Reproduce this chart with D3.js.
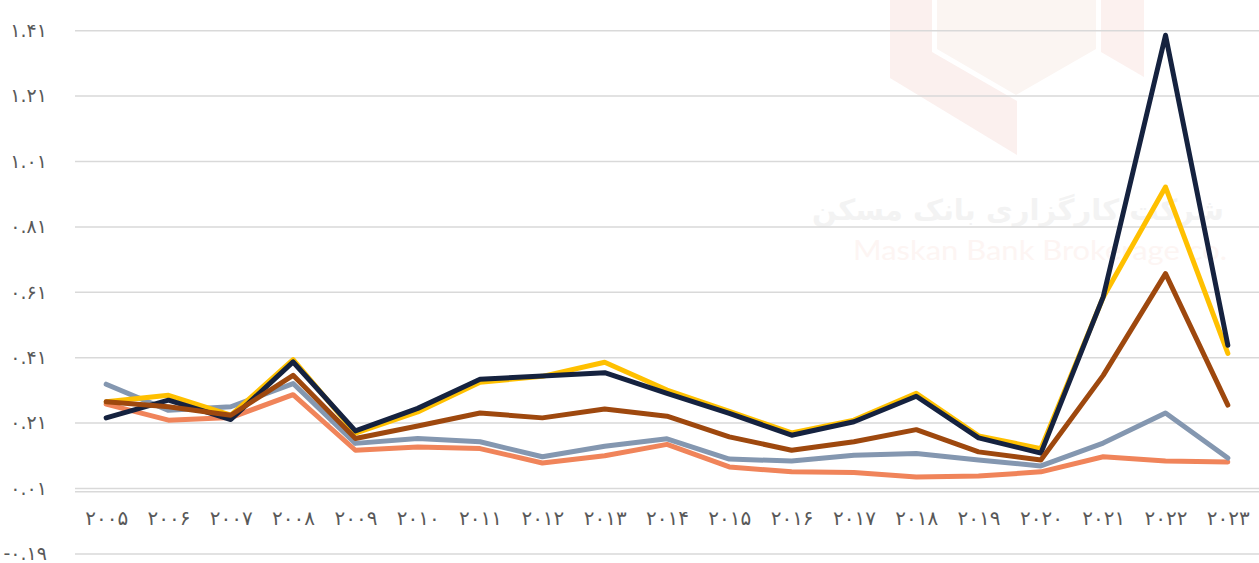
<!DOCTYPE html>
<html>
<head>
<meta charset="utf-8">
<script src="https://cdn.jsdelivr.net/npm/d3@7"></script>
<style>
  html, body { margin: 0; padding: 0; background: #fff; }
  svg { display: block; }
</style>
</head>
<body>
<svg id="chart" width="1259" height="563"></svg>
<script>
const years = ["2005","2006","2007","2008","2009","2010","2011","2012","2013","2014","2015","2016","2017","2018","2019","2020","2021","2022","2023"];
const navyValues   = [0.226,0.280,0.221,0.397,0.186,0.255,0.344,0.354,0.364,0.301,0.240,0.173,0.214,0.292,0.165,0.118,0.596,1.396,0.448];
const yellowValues = [0.275,0.295,0.234,0.404,0.179,0.244,0.335,0.353,0.396,0.311,0.246,0.180,0.219,0.301,0.171,0.132,0.595,0.932,0.423];
const brownValues  = [0.275,0.260,0.234,0.356,0.163,0.201,0.241,0.226,0.253,0.231,0.168,0.127,0.153,0.190,0.122,0.097,0.356,0.667,0.265];
const grayValues   = [0.329,0.249,0.260,0.331,0.148,0.163,0.153,0.107,0.139,0.162,0.100,0.094,0.112,0.117,0.097,0.079,0.149,0.241,0.103];
const orangeValues = [0.268,0.219,0.227,0.297,0.127,0.137,0.132,0.088,0.110,0.145,0.076,0.061,0.059,0.045,0.048,0.061,0.107,0.094,0.091];
const yTicks = [-0.19,0.01,0.21,0.41,0.61,0.81,1.01,1.21,1.41];

const faDigits = "۰۱۲۳۴۵۶۷۸۹";
const toFa = s => String(s).replace(/[0-9]/g, d => faDigits[+d]);

const svg = d3.select("#chart");
const W = 1259, H = 563;
const x = d3.scalePoint().domain(years).range([75, 1259]).padding(0.5);
const y = d3.scaleLinear().domain([-0.19, 1.41]).range([553.9, 30.7]);

// watermark
const wm = svg.append("g");
wm.append("polygon").attr("points", "890,0 932,0 932,52 1017,101 1017,155 890,78").attr("fill", "#fbf0ee");
wm.append("polygon").attr("points", "937,0 1096,0 1096,49 1016,95 937,49").attr("fill", "#fbf5f2");
wm.append("polygon").attr("points", "1101,0 1144,0 1144,77 1101,52").attr("fill", "#fcf1ef");
wm.append("text").attr("x", 812).attr("y", 220)
  .attr("textLength", 412).attr("lengthAdjust", "spacingAndGlyphs")
  .attr("font-family", "DejaVu Sans").attr("font-weight", "bold").attr("font-size", 29)
  .attr("fill", "#f3f3f3").text("شرکت کارگزاری بانک مسکن");
wm.append("text").attr("x", 853).attr("y", 260)
  .attr("textLength", 374).attr("lengthAdjust", "spacingAndGlyphs")
  .attr("font-family", "Lato, 'Open Sans', sans-serif").attr("font-size", 27)
  .attr("fill", "#fdf5f3").text("Maskan Bank Brokerage co.");

// gridlines
svg.append("g").selectAll("line").data(yTicks).join("line")
  .attr("x1", 75).attr("x2", W)
  .attr("y1", d => y(d)).attr("y2", d => y(d))
  .attr("stroke", "#d9d9d9").attr("stroke-width", 1.5);

// zero axis line
svg.append("line").attr("x1", 75).attr("x2", W).attr("y1", y(0)).attr("y2", y(0))
  .attr("stroke", "#d9d9d9").attr("stroke-width", 1.5);

// y tick labels
const yAxis = d3.axisLeft(y).tickValues(yTicks).tickSize(0).tickPadding(0)
  .tickFormat(d => toFa(d3.format(".2f")(d)).replace("−", "-"));
const gy = svg.append("g").attr("transform", "translate(47,0)").call(yAxis);
gy.select(".domain").remove();
gy.selectAll("text").attr("font-family", "DejaVu Sans").attr("font-size", 19)
  .attr("letter-spacing", 1).attr("fill", "#595959").attr("direction", "ltr").attr("dy", "0.3em");

// x tick labels
const xAxis = d3.axisBottom(x).tickSize(0).tickPadding(0).tickFormat(d => toFa(d));
const gx = svg.append("g").attr("transform", "translate(0,511)").call(xAxis);
gx.select(".domain").remove();
gx.selectAll("text").attr("font-family", "DejaVu Sans").attr("font-size", 20)
  .attr("letter-spacing", 1.5).attr("fill", "#595959").attr("direction", "ltr").attr("dy", "0.71em");

// lines
const seriesList = [
  { values: orangeValues, color: "#f0845a" },
  { values: grayValues,   color: "#8497b0" },
  { values: yellowValues, color: "#ffc000" },
  { values: navyValues,   color: "#15223f" },
  { values: brownValues,  color: "#9e480e" }
];
const line = d3.line().x((d, i) => x(years[i])).y(d => y(d));
svg.append("g").selectAll("path").data(seriesList).join("path")
  .attr("d", s => line(s.values))
  .attr("fill", "none").attr("stroke", s => s.color)
  .attr("stroke-width", 5).attr("stroke-linejoin", "round").attr("stroke-linecap", "round");
</script>
</body>
</html>
